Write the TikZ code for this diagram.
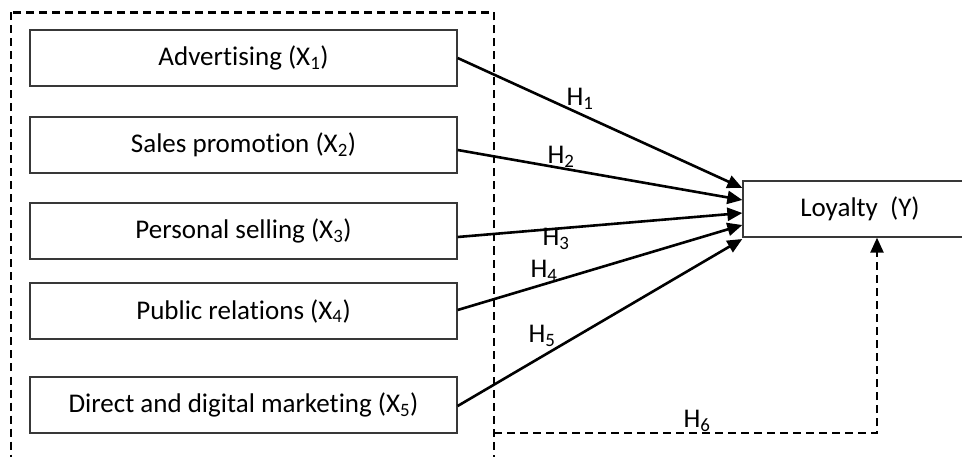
\documentclass[tikz,border=0pt]{standalone}
\usepackage{fontspec}
\setmainfont{Carlito}[Ligatures={NoCommon}]
\usetikzlibrary{arrows.meta}
\begin{document}
\begin{tikzpicture}[x=1pt,y=-1pt,
  box/.style={draw=black!78, line width=1.3pt, minimum width=427pt, minimum height=56pt, inner sep=0pt, font=\fontsize{27}{31}\selectfont},
  hlab/.style={inner sep=0pt, font=\fontsize{27}{31}\selectfont},
  tip/.style={-{Triangle[length=15pt,width=13pt]}},
  arr/.style={line width=2.6pt, tip},
  grp/.style={line width=2.3pt, dash pattern=on 8pt off 5pt}]
\useasboundingbox (0,0) rectangle (962,457);
\clip (0,0) rectangle (962,457);
% dashed group frame
\draw[grp] (11,12.5) rectangle (494,490);
\coordinate (g6) at (494,433);
% boxes
\node[box] (b1) at (243.5,58) {Advertising (X\textsubscript{1})};
\node[box] (b2) at (243.5,145) {Sales promotion (X\textsubscript{2})};
\node[box] (b3) at (243.5,231) {Personal selling (X\textsubscript{3})};
\node[box] (b4) at (243.5,311) {Public relations (X\textsubscript{4})};
\node[box] (b5) at (243.5,405) {Direct and digital marketing (X\textsubscript{5})};
\node[box, minimum width=234pt] (loy) at (860,209) {Loyalty\ \ (Y)};
% arrows
\draw[arr] (b1.east) -- ([yshift=21pt]loy.west);
\draw[arr] ([yshift=-5pt]b2.east) -- ([yshift=9pt]loy.west);
\draw[arr] ([yshift=-6pt]b3.east) -- ([yshift=-4pt]loy.west);
\draw[arr] ([yshift=1pt]b4.east) -- ([yshift=-16pt]loy.west);
\draw[arr] ([yshift=-1pt]b5.east) -- ([yshift=-30pt]loy.west);
\draw[grp, tip] (g6) -| ([xshift=17pt]loy.south);
% labels
\node[hlab] (h1) at (580,99) {H\textsubscript{1}};
\node[hlab] (h2) at (561,157) {H\textsubscript{2}};
\node[hlab] (h3) at (556,239) {H\textsubscript{3}};
\node[hlab] (h4) at (544,271) {H\textsubscript{4}};
\node[hlab] (h5) at (542,336) {H\textsubscript{5}};
\node[hlab] (h6) at (697,421) {H\textsubscript{6}};
\end{tikzpicture}
\end{document}
